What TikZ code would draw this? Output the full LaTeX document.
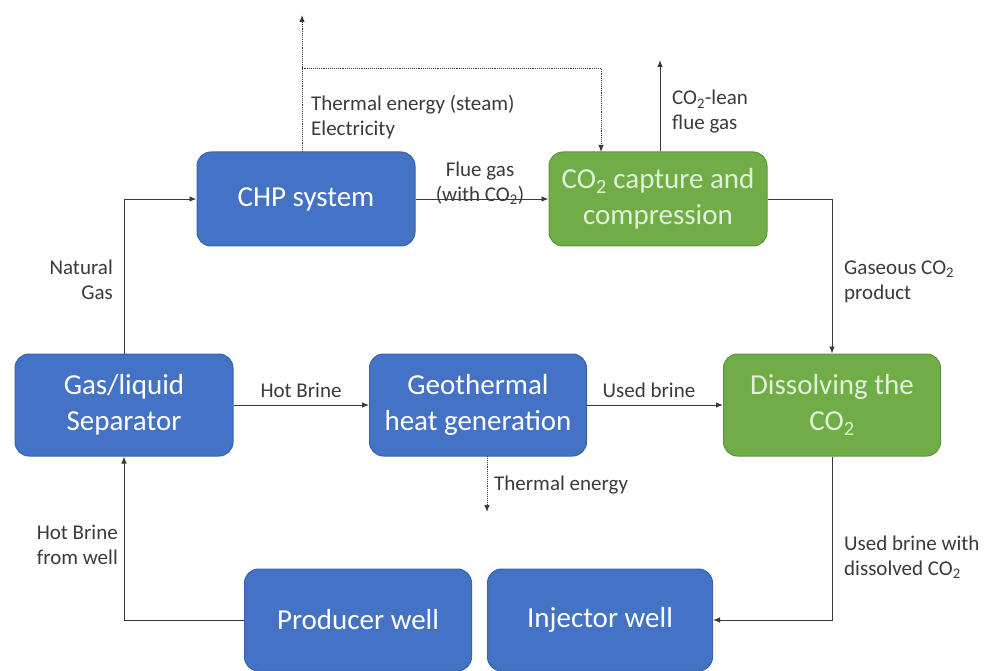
\documentclass[tikz,border=0pt]{standalone}
\usepackage{fontspec}
\setmainfont{Carlito}
\usetikzlibrary{arrows.meta}
\definecolor{boxblue}{HTML}{4472C4}
\definecolor{boxblueline}{HTML}{3A62AC}
\definecolor{boxgreen}{HTML}{70AD47}
\definecolor{boxgreenline}{HTML}{5E9439}
\definecolor{greentext}{HTML}{E2F0D9}
\definecolor{labelgray}{HTML}{3A3A3A}
\begin{document}
\begin{tikzpicture}[x=1pt, y=-1pt,
    bluebox/.style={rectangle, rounded corners=14pt, fill=boxblue, draw=boxblueline, line width=1pt,
        text=white, align=center, font=\fontsize{29}{36}\selectfont, inner sep=0pt},
    greenbox/.style={rectangle, rounded corners=14pt, fill=boxgreen, draw=boxgreenline, line width=1pt,
        text=greentext, align=center, font=\fontsize{29}{36}\selectfont, inner sep=0pt},
    flow/.style={draw=labelgray, line width=0.9pt, -{Latex[length=7pt,width=5.5pt]}},
    energy/.style={flow, densely dotted},
    lbl/.style={text=labelgray, font=\fontsize{21}{25}\selectfont, inner sep=0pt}]
    \useasboundingbox (0,0) rectangle (994,671);

    % Draw the process boxes
    \node[bluebox, minimum width=218pt, minimum height=94pt] (chp) at (306, 199) {CHP system};
    \node[greenbox, minimum width=218pt, minimum height=94pt] (cap) at (658, 199) {CO\textsubscript{2} capture and\\compression};
    \node[bluebox, minimum width=218pt, minimum height=102pt] (sep) at (124, 405) {Gas/liquid\\Separator};
    \node[bluebox, minimum width=217pt, minimum height=102pt] (geo) at (478, 405) {Geothermal\\heat generation};
    \node[greenbox, minimum width=217pt, minimum height=102pt] (diss) at (832, 405) {Dissolving the\\CO\textsubscript{2}};
    \node[bluebox, minimum width=227pt, minimum height=102pt] (prod) at (358, 620) {Producer well};
    \node[bluebox, minimum width=225pt, minimum height=102pt] (inj) at (600, 620) {Injector well};

    % Free ends of the outgoing flows
    \coordinate (chpout) at (302, 152);
    \coordinate (chptop) at (302, 15);
    \coordinate (capin) at (601, 152);
    \coordinate (leanout) at (660, 60);
    \coordinate (geoout) at (487, 456);
    \coordinate (thermout) at (487, 512);

    % Draw the main flows
    \draw[flow] (sep.north) |- (chp.west);
    \draw[flow] (chp.east) -- (cap.west);
    \draw[flow] (cap.east) -| (diss.north);
    \draw[flow] (sep.east) -- (geo.west);
    \draw[flow] (geo.east) -- (diss.west);
    \draw[flow] (diss.south) |- (inj.east);
    \draw[flow] (prod.west) -| (sep.south);
    \draw[flow] (cap.north -| leanout) -- (leanout);

    % Draw the energy flows (dotted)
    \draw[energy] (chpout) -- (chptop);
    \draw[energy] (chpout) -- (302, 68) -| (capin);
    \draw[energy] (geoout) -- (thermout);

    % Labels of the flows
    \node[lbl, anchor=west, align=left] (lsteam) at (311, 117) {Thermal energy (steam)\\Electricity};
    \node[lbl, anchor=west, align=left] (llean) at (672, 112) {CO\textsubscript{2}-lean\\flue gas};
    \node[lbl, align=center] (lflue) at (480, 183) {Flue gas\\(with CO\textsubscript{2})};
    \node[lbl, anchor=west, align=left] (lgas) at (844, 282) {Gaseous CO\textsubscript{2}\\product};
    \node[lbl, anchor=east, align=right] (lnat) at (113, 280) {Natural\\Gas};
    \node[lbl] (lhot) at (301, 390) {Hot Brine};
    \node[lbl] (lused) at (649, 390) {Used brine};
    \node[lbl, anchor=west] (ltherm) at (494, 485) {Thermal energy};
    \node[lbl, anchor=east, align=right] (lwell) at (118, 545) {Hot Brine\\from well};
    \node[lbl, anchor=west, align=left] (ldiss) at (844, 557) {Used brine with\\dissolved CO\textsubscript{2}};
\end{tikzpicture}
\end{document}
